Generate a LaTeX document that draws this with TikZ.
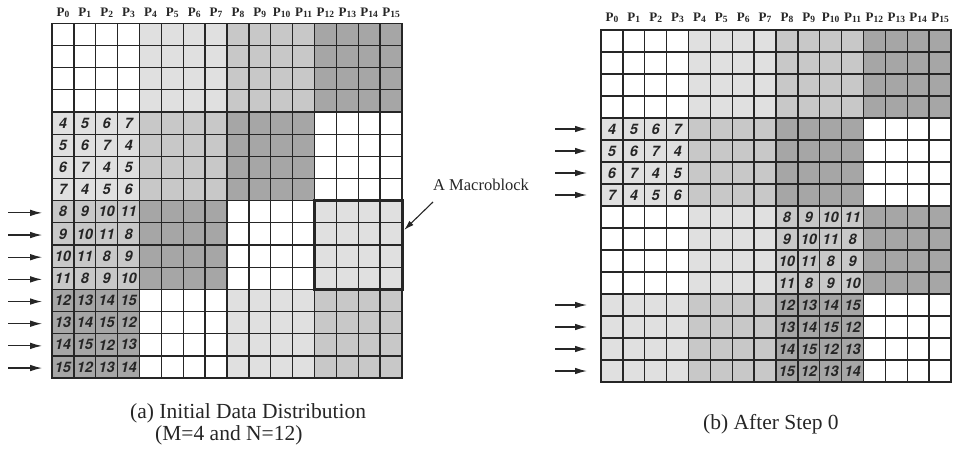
\documentclass[tikz,border=0pt]{standalone}
\usepackage{fontspec}
\setmainfont{Liberation Serif}
\newfontfamily\cellfont{TeX Gyre Heros}
\usetikzlibrary{arrows.meta}
\definecolor{shadeA}{HTML}{E0E0E0}
\definecolor{shadeB}{HTML}{C8C8C8}
\definecolor{shadeC}{HTML}{A6A6A6}
\definecolor{ink}{HTML}{262626}
\tikzset{
  gridline/.style={draw=ink, line width=1.3pt, line cap=rect},
  cellnum/.style={font=\cellfont\bfseries\itshape\fontsize{14.5}{14.5}\selectfont, text=ink, inner sep=0pt},
  plabel/.style={font=\bfseries\fontsize{13}{13}\selectfont, text=ink, anchor=base, inner sep=0pt},
  rowarrow/.style={draw=ink, line width=1.2pt, -{Latex[length=12pt,width=6.5pt]}},
  pointer/.style={draw=ink, line width=1.1pt, -{Latex[length=10pt,width=6pt]}},
  caption/.style={font=\fontsize{21.5}{24}\selectfont, text=ink, anchor=base west, inner sep=0pt},
  blocktag/.style={font=\fontsize{16.5}{18}\selectfont, text=ink, anchor=base west, inner sep=0pt},
}
% colour of a 4x4 block for shading level 0..3
\newcommand{\pickshade}[1]{%
  \ifcase#1\def\blockshade{white}\or\def\blockshade{shadeA}\or
  \def\blockshade{shadeB}\or\def\blockshade{shadeC}\fi}
% P_k label with a lowered index
\newcommand{\proc}[1]{P\raisebox{-0.28ex}{\fontsize{9.5}{9.5}\selectfont #1}}

\begin{document}
\begin{tikzpicture}[x=1pt,y=-1pt]
\useasboundingbox (0,0) rectangle (953,461);

% ---------------- (a) initial data distribution ----------------
\begin{scope}[shift={(52,23.3)}, x=21.875pt, y=-22.17pt]
  \foreach \r in {0,...,3}{
    \foreach \c in {0,...,3}{
      \pgfmathtruncatemacro\lv{mod(\r+\c,4)}
      \pickshade{\lv}
      \fill[fill=\blockshade] (4*\c,4*\r) rectangle ++(4,4);
    }}
  \foreach \k in {0,...,16}{
    \draw[gridline] (\k,0) -- (\k,16);
    \draw[gridline] (0,\k) -- (16,\k);
  }
  \foreach \c in {0,...,15}
    \node[plabel, yshift=7pt] (a-p\c) at (\c+.5,0) {\proc{\c}};
  \foreach \i in {4,...,15}{
    \foreach \j in {0,...,3}{
      \pgfmathtruncatemacro\v{4*floor(\i/4)+mod(\i+\j,4)}
      \node[cellnum] (a-\i-\j) at (\j+.5,\i+.5) {\v};
    }}
  \foreach \i in {8,...,15}{
    \coordinate (a-in-\i) at (-2,\i+.55);
    \coordinate (a-row-\i) at (-0.45,\i+.55);
    \draw[rowarrow] (a-in-\i) -- (a-row-\i);
  }
  \draw[draw=ink, line width=3pt] (12,8) rectangle (16,12);
  \coordinate (mbtip) at (16.1,9.32);
\end{scope}

\node[blocktag] (mblabel) at (433,190) {A Macroblock};
\coordinate (mbstart) at (433,202);
\draw[pointer] (mbstart) -- (mbtip);

\node[caption] (capa1) at (130,418) {(a) Initial Data Distribution};
\node[caption] (capa2) at (155,440) {(M=4 and N=12)};

% ---------------- (b) after step 0 ----------------
\begin{scope}[shift={(601,30)}, x=21.875pt, y=-22pt]
  \foreach \r in {0,...,3}{
    \foreach \c in {0,...,3}{
      \ifnum\r<2
        \pgfmathtruncatemacro\lv{mod(\r+\c,4)}
      \else
        \pgfmathtruncatemacro\lv{mod(\r+\c+2,4)}
      \fi
      \pickshade{\lv}
      \fill[fill=\blockshade] (4*\c,4*\r) rectangle ++(4,4);
    }}
  \foreach \k in {0,...,16}{
    \draw[gridline] (\k,0) -- (\k,16);
    \draw[gridline] (0,\k) -- (16,\k);
  }
  \foreach \c in {0,...,15}
    \node[plabel, yshift=9pt] (b-p\c) at (\c+.5,0) {\proc{\c}};
  \foreach \i in {4,...,7}{
    \foreach \j in {0,...,3}{
      \pgfmathtruncatemacro\v{4+mod(\i+\j,4)}
      \node[cellnum] (b-\i-\j) at (\j+.5,\i+.5) {\v};
    }}
  \foreach \i in {8,...,15}{
    \foreach \j in {0,...,3}{
      \pgfmathtruncatemacro\v{4*floor(\i/4)+mod(\i+\j,4)}
      \node[cellnum] (b-\i-\j) at (\j+8.5,\i+.5) {\v};
    }}
  \foreach \i in {4,...,7,12,13,14,15}{
    \coordinate (b-in-\i) at (-2.1,\i+.5);
    \coordinate (b-row-\i) at (-0.64,\i+.5);
    \draw[rowarrow] (b-in-\i) -- (b-row-\i);
  }
\end{scope}

\node[caption] (capb) at (703,429) {(b) After Step 0};
\end{tikzpicture}
\end{document}
